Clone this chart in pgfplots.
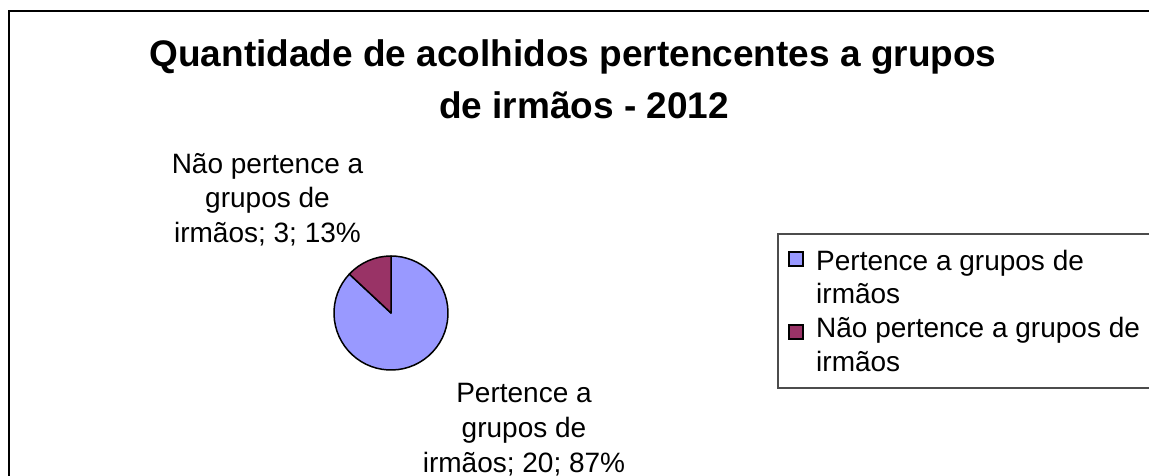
\documentclass[border=0pt]{standalone}
\usepackage{pgfplots}
\usepackage{pgfplotstable}
\pgfplotsset{compat=1.18}
\usepackage{fontspec}
\setmainfont{Liberation Sans}
\definecolor{pieblue}{HTML}{9999FF}
\definecolor{piemaroon}{HTML}{993366}

% pie values (clockwise from 12 o'clock, Excel order)
\pgfplotstableread{
label value
Pertence 20
Nao 3
}\piedata

\newcommand\lbl{\fontsize{28bp}{34bp}\selectfont}
\newcommand\ttl{\fontsize{37bp}{44bp}\selectfont\bfseries}

\begin{document}
\begin{tikzpicture}
\pgfplotstablegetelem{0}{value}\of\piedata \let\va\pgfplotsretval
\pgfplotstablegetelem{1}{value}\of\piedata \let\vb\pgfplotsretval
\pgfmathsetmacro{\angb}{360*\vb/(\va+\vb)}
\begin{axis}[
  name=ax,
  width=1149bp, height=476bp, scale only axis,
  xmin=0, xmax=1149, ymin=0, ymax=476,
  y dir=reverse,
  hide axis, clip=false,
]
% chart frame
\draw[line width=2.5bp] (axis cs:9,490) -- (axis cs:9,11) -- (axis cs:1160,11);
% title
\node[anchor=base, inner sep=0, font=\ttl] at (axis cs:573,67) {Quantidade de acolhidos pertencentes a grupos};
\node[anchor=base, inner sep=0, font=\ttl] at (axis cs:584,118) {de irmãos - 2012};
% pie slices
\filldraw[fill=pieblue, draw=black, line width=1.5bp, line join=round]
  (axis cs:391,313) -- ++({90+\angb}:57bp) arc[start angle={90+\angb}, end angle=450, radius=57bp] -- cycle;
\filldraw[fill=piemaroon, draw=black, line width=1.5bp, line join=round]
  (axis cs:391,313) -- ++(90:57bp) arc[start angle=90, delta angle=\angb, radius=57bp] -- cycle;
% data labels
\node[anchor=base, inner sep=0, font=\lbl] at (axis cs:267.5,173) {Não pertence a};
\node[anchor=base, inner sep=0, font=\lbl] at (axis cs:267.5,207) {grupos de};
\node[anchor=base, inner sep=0, font=\lbl] at (axis cs:267.5,242) {irmãos; 3; 13\%};
\node[anchor=base, inner sep=0, font=\lbl] at (axis cs:524,402) {Pertence a};
\node[anchor=base, inner sep=0, font=\lbl] at (axis cs:524,437) {grupos de};
\node[anchor=base, inner sep=0, font=\lbl] at (axis cs:524,472) {irmãos; 20; 87\%};
% legend
\draw[draw=black!70, line width=1.2bp] (axis cs:1160,234) -- (axis cs:778,234) -- (axis cs:778,388) -- (axis cs:1160,388);
\filldraw[fill=pieblue, draw=black, line width=1.2bp] (axis cs:789,252) rectangle (axis cs:803,266);
\filldraw[fill=piemaroon, draw=black, line width=1.2bp] (axis cs:789,325) rectangle (axis cs:803,339);
\node[anchor=base west, inner sep=0, font=\lbl] at (axis cs:816,270) {Pertence a grupos de};
\node[anchor=base west, inner sep=0, font=\lbl] at (axis cs:816,303) {irmãos};
\node[anchor=base west, inner sep=0, font=\lbl] at (axis cs:816,337) {Não pertence a grupos de};
\node[anchor=base west, inner sep=0, font=\lbl] at (axis cs:816,371) {irmãos};
\end{axis}
\pgfresetboundingbox
\path[use as bounding box] (0,0) rectangle (1149bp,476bp);
\end{tikzpicture}
\end{document}
